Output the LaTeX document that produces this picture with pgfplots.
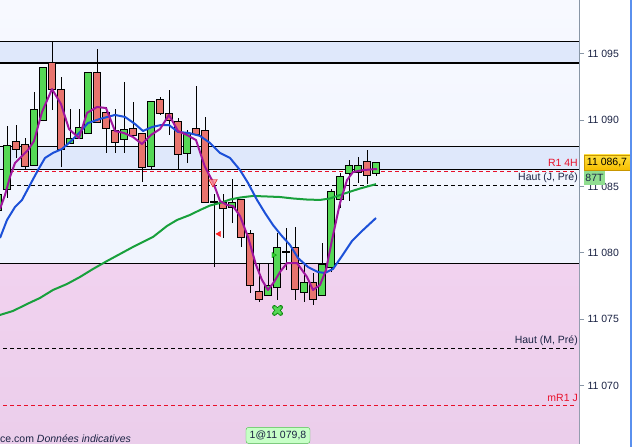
\documentclass[border=0pt]{standalone}
\usepackage{pgfplots}
\pgfplotsset{compat=1.18}
\usepackage{pgfplotstable}
\usepackage{fontspec}
\setmainfont{Liberation Sans}

\definecolor{cgreen}{HTML}{55D855}
\definecolor{cred}{HTML}{E8746E}
\definecolor{bgtop}{HTML}{F7F9FF}
\definecolor{bgbot}{HTML}{EBF1FD}
\definecolor{band}{HTML}{DFE8FB}
\definecolor{pinktop}{HTML}{F1D2EF}
\definecolor{pinkbot}{HTML}{EBCEEB}
\definecolor{maviolet}{HTML}{A0169E}
\definecolor{mablue}{HTML}{1C50D8}
\definecolor{magreen}{HTML}{18A03C}
\definecolor{axgray}{HTML}{8896A6}
\definecolor{lred}{HTML}{E8102A}
\definecolor{navy}{HTML}{1B2344}
\definecolor{edgeblue}{HTML}{5A90EE}

\def\yu{13.28}

% error-bar style used for wicks and bodies
\pgfplotsset{candlebar/.style={draw=none, mark=none,
    error bars/.cd, y dir=plus, y explicit, error mark=none,
    error bar style={#1}}}

\pgfplotstableread{
k  o        h        l        c
-1 11083.20 11084.73 11083.07 11084.35
0  11084.80 11089.55 11084.13 11088.04
1  11088.34 11089.62 11087.14 11087.82
2  11088.12 11088.64 11086.31 11086.54
3  11086.61 11092.11 11086.54 11090.75
4  11090.00 11093.92 11089.92 11093.92
5  11094.29 11095.95 11090.75 11092.33
6  11092.26 11093.24 11086.46 11087.82
7  11088.27 11090.83 11088.19 11088.57
8  11088.64 11090.83 11088.57 11089.40
9  11089.02 11093.54 11088.95 11093.54
10 11093.54 11095.35 11089.85 11089.85
11 11090.53 11090.98 11087.52 11089.40
12 11089.17 11090.83 11087.52 11088.34
13 11088.57 11092.86 11087.52 11089.25
14 11089.32 11091.36 11088.80 11088.87
15 11088.95 11088.95 11085.33 11086.46
16 11086.54 11091.43 11086.31 11091.36
17 11091.51 11091.73 11090.38 11090.53
18 11090.45 11092.26 11088.87 11090.00
19 11089.85 11090.15 11086.31 11087.44
20 11087.52 11089.25 11086.76 11088.95
21 11089.32 11092.56 11088.87 11088.95
22 11089.17 11090.23 11083.75 11083.83
23 11083.83 11084.43 11078.93 11083.83
24 11083.75 11084.43 11081.11 11083.37
25 11083.45 11085.56 11082.24 11083.75
26 11083.98 11083.98 11080.44 11081.19
27 11081.42 11081.72 11076.97 11077.58
28 11077.05 11079.23 11076.30 11076.52
29 11076.82 11079.23 11076.75 11077.50
30 11077.42 11081.49 11076.45 11080.36
31 11080.06 11081.87 11078.70 11080.06
32 11080.36 11081.94 11076.45 11077.27
33 11077.05 11079.08 11076.30 11077.73
34 11077.73 11078.48 11076.07 11076.52
35 11076.82 11080.74 11076.75 11079.08
36 11078.93 11084.80 11078.55 11084.58
37 11084.05 11086.01 11083.37 11085.71
38 11086.01 11086.99 11083.90 11086.54
39 11086.08 11087.21 11085.26 11086.54
40 11086.84 11087.74 11085.18 11085.86
41 11086.01 11086.84 11085.78 11086.76
}\candles

\begin{document}
\begin{tikzpicture}[font=\fontsize{10.5}{12}\selectfont]
\fill[white] (0pt,-3pt) rectangle (632pt,444pt);
\useasboundingbox (0pt,-3pt) rectangle (632pt,444pt);
\begin{axis}[
    x=9pt, y=\yu pt,
    xmin=-0.7778, xmax=63.5556,
    ymin=11065.602, ymax=11099.036,
    clip=false,
    axis x line*=bottom, axis y line*=right,
    axis line style={axgray, line width=1pt},
    xtick=\empty,
    ytick={11070,11075,11080,11085,11090,11095},
    yticklabels={11 070,11 075,11 080,11 085,11 090,11 095},
    tick align=outside, major tick length=5pt,
    tick style={axgray, line width=0.8pt},
    yticklabel style={text=navy},
    axis background/.style={top color=bgtop, bottom color=bgbot},
]
% zones
\addplot[draw=none, top color=pinktop, bottom color=pinkbot] coordinates
  {(-0.7778,11065.602) (63.5556,11065.602) (63.5556,11079.21) (-0.7778,11079.21)} -- cycle;
\addplot[draw=none, fill=band] coordinates
  {(-0.7778,11094.29) (63.5556,11094.29) (63.5556,11095.93) (-0.7778,11095.93)} -- cycle;
\addplot[draw=none, fill=band] coordinates
  {(-0.7778,11086.26) (63.5556,11086.26) (63.5556,11087.97) (-0.7778,11087.97)} -- cycle;

% levels
\addplot[black, line width=1.1pt] coordinates {(-0.7778,11095.93) (63.5556,11095.93)};
\addplot[black, line width=1.1pt] coordinates {(-0.7778,11094.29) (63.5556,11094.29)};
\addplot[black, line width=1.1pt] coordinates {(-0.7778,11087.97) (63.5556,11087.97)};
\addplot[black, line width=1.1pt] coordinates {(-0.7778,11086.26) (63.5556,11086.26)};
\addplot[black, line width=1.1pt] coordinates {(-0.7778,11079.21) (63.5556,11079.21)};

\addplot[lred, line width=0.8pt, dash pattern=on 4pt off 3pt] coordinates {(-0.44,11086.14) (63.22,11086.14)};
\addplot[black, line width=0.8pt, dash pattern=on 4pt off 3pt] coordinates {(-0.44,11085.08) (63.22,11085.08)};
\addplot[black, line width=0.8pt, dash pattern=on 4pt off 3pt] coordinates {(-0.44,11072.83) (63.22,11072.83)};
\addplot[lred, line width=0.8pt, dash pattern=on 4pt off 3pt] coordinates {(-0.44,11068.54) (63.22,11068.54)};

% candles: wicks, black outlines, then green and red bodies
\addplot[candlebar={black, line width=1pt}]
  table[x=k, y=l, y error expr=\thisrow{h}-\thisrow{l}] {\candles};
\addplot[candlebar={black, line width=7.2pt}]
  table[x=k, y expr={min(\thisrow{o},\thisrow{c})-0.075},
        y error expr={abs(\thisrow{c}-\thisrow{o})+0.15}] {\candles};
\addplot[candlebar={cgreen, line width=5.2pt}]
  table[x=k, y expr={\thisrow{c}>\thisrow{o} ? \thisrow{o} : nan},
        y error expr={\thisrow{c}-\thisrow{o}}] {\candles};
\addplot[candlebar={cred, line width=5.2pt}]
  table[x=k, y expr={\thisrow{c}<\thisrow{o} ? \thisrow{c} : nan},
        y error expr={\thisrow{o}-\thisrow{c}}] {\candles};

% moving averages
\addplot[magreen, line width=2pt, line join=round] coordinates {
(-0.778,11075.32) (0.667,11075.62) (2.222,11076.14) (3.667,11076.60) (5.111,11077.20)
(6.667,11077.65) (8.111,11078.18) (9.556,11078.78) (11.111,11079.38) (12.556,11079.91)
(14.0,11080.44) (16.222,11081.19) (17.778,11082.02) (18.889,11082.47) (20.333,11082.85)
(21.444,11083.22) (22.556,11083.56) (23.667,11083.75) (24.778,11084.01) (25.889,11084.16)
(27.333,11084.28) (28.889,11084.24) (30.333,11084.20) (31.778,11084.09) (33.333,11084.01)
(34.778,11083.98) (35.889,11084.09) (37.0,11084.35) (38.111,11084.60) (39.222,11084.84)
(41.0,11085.17)};
\addplot[mablue, line width=2pt, line join=round] coordinates {
(-0.778,11081.11) (0,11082.47) (0.889,11083.45) (1.667,11083.98) (2.556,11085.11)
(3.444,11086.23) (4.222,11087.14) (5.111,11087.52) (6.111,11087.82) (7.0,11088.34)
(8.111,11089.10) (9.0,11089.77) (10.333,11090.08) (12.0,11090.38) (13.111,11090.23)
(14.222,11089.70) (15.111,11089.17) (16.111,11089.47) (17.111,11089.62) (18.0,11089.62)
(19.0,11089.10) (20.222,11089.02) (21.444,11088.80) (22.556,11088.27) (23.667,11087.52)
(24.778,11087.14) (25.889,11086.23) (26.778,11085.26) (27.778,11083.98) (28.667,11083.00)
(29.556,11082.09) (30.444,11081.34) (31.444,11080.59) (32.333,11079.61) (33.444,11078.93)
(34.556,11078.55) (35.333,11078.48) (36.222,11078.78) (37.222,11079.76) (38.333,11080.89)
(39.444,11081.64) (41.0,11082.62)};
\addplot[maviolet, line width=2pt, line join=round] coordinates {
(-0.778,11083.30) (-0.222,11084.35) (0.333,11085.71) (0.889,11086.76) (1.444,11087.14)
(2.333,11087.74) (3.0,11088.42) (3.889,11090.60) (5.0,11092.33) (6.0,11091.20)
(6.889,11089.32) (8.0,11088.64) (8.889,11090.53) (10.0,11090.98) (11.0,11090.90)
(12.0,11089.17) (13.0,11089.02) (14.0,11088.72) (15.0,11088.19) (16.0,11088.87)
(17.0,11089.32) (18.0,11090.38) (19.0,11089.17) (20.0,11088.87) (21.0,11088.49)
(22.0,11086.46) (22.889,11085.33) (23.667,11083.90) (24.444,11083.60) (25.111,11083.52)
(25.889,11082.77) (26.778,11081.19) (27.667,11079.08) (28.333,11077.95) (29.0,11077.20)
(29.667,11077.80) (30.333,11078.55) (31.111,11079.23) (32.222,11079.23) (33.333,11078.18)
(34.0,11077.20) (34.778,11077.58) (35.444,11078.70) (36.111,11080.96) (37.0,11083.75)
(37.778,11085.48) (38.444,11086.08) (39.556,11086.23) (41.111,11086.31)};

% signals
\addplot[only marks, mark=triangle*, mark size=5pt,
  mark options={rotate=180, fill=red!45, draw=red!85!black, fill opacity=0.8}]
  coordinates {(22.89,11085.33)};
\addplot[only marks, mark=triangle*, mark size=3pt,
  mark options={rotate=90, fill=red!85, draw=red}] coordinates {(23.56,11081.42)};
\addplot[only marks, mark=triangle*, mark size=3pt,
  mark options={rotate=-90, fill=green!75!black!80, draw=green!60!black}] coordinates {(29.61,11079.83)};
\addplot[only marks, mark=x, mark size=4.5pt,
  mark options={draw=green!50!black, line width=4.4pt, line cap=round}] coordinates {(30.06,11075.66)};
\addplot[only marks, mark=x, mark size=4.5pt,
  mark options={draw=cgreen, line width=2.8pt, line cap=round}] coordinates {(30.06,11075.66)};

% level names
\node[anchor=east, inner sep=0pt, text=lred] at (axis cs:63.44,11086.74) {R1 4H};
\node[anchor=east, inner sep=0pt, text=navy] at (axis cs:63.44,11085.63) {Haut (J, Pré)};
\node[anchor=east, inner sep=0pt, text=navy] at (axis cs:63.44,11073.38) {Haut (M, Pré)};
\node[anchor=east, inner sep=0pt, text=lred] at (axis cs:63.44,11069.04) {mR1 J};
\node[anchor=west, inner sep=0pt, text=navy] at (axis cs:-0.7778,11066.03)
  {ce.com \textit{Données indicatives}};
\node[draw=green!65!black!70, fill=green!22, rounded corners=2.5pt, minimum width=64pt,
  minimum height=16pt, inner sep=1pt, text=navy] at (axis cs:30.11,11066.25) {1@11 079,8};

\coordinate (goldbox) at (axis cs:66.67,11086.80);
\coordinate (tbox) at (axis cs:65.28,11085.63);
\end{axis}
\node[draw={rgb,255:red,200;green,150;blue,0}, top color={rgb,255:red,255;green,222;blue,60},
  bottom color={rgb,255:red,246;green,190;blue,0}, minimum width=46pt, minimum height=15pt,
  inner sep=0pt] at (goldbox) {11 086,7};
\node[fill={rgb,255:red,144;green,222;blue,144}, minimum width=21pt, minimum height=14pt,
  inner sep=0pt, text=navy] at (tbox) {87T};
\draw[edgeblue, line width=2pt] (631pt,-3pt) -- (631pt,444pt);
\end{tikzpicture}
\end{document}
